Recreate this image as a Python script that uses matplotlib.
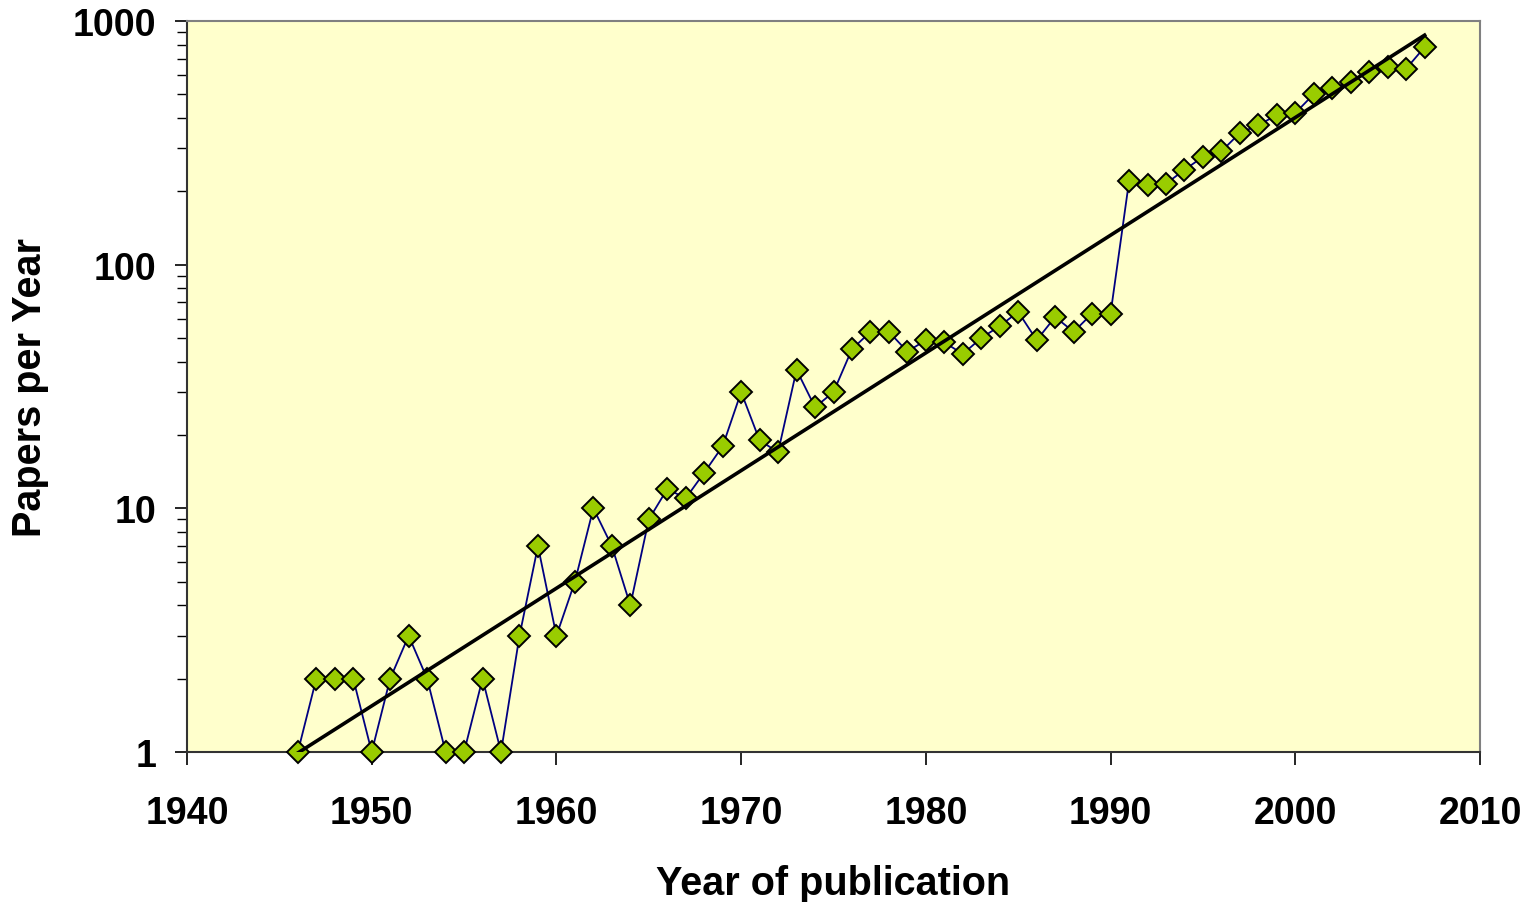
import numpy as np
import matplotlib
matplotlib.use("Agg")
import matplotlib.pyplot as plt
from matplotlib.ticker import LogLocator, FixedLocator, NullFormatter

plt.rcParams['font.family'] = ['Liberation Sans', 'DejaVu Sans']
plt.rcParams['font.weight'] = 'bold'

years = list(range(1946, 2008))
papers = [1, 2, 2, 2, 1, 2, 3, 2, 1, 1,
          2, 1, 3, 7, 3, 5, 10, 7, 4, 9,
          12, 11, 14, 18, 30, 19, 17, 37, 26, 30,
          45, 53, 53, 44, 49, 48, 43, 50, 56, 64,
          49, 61, 53, 63, 63, 220, 212, 215, 245, 277,
          292, 347, 374, 411, 419, 501, 531, 561, 617, 647,
          637, 781]

x_ticks = [1940, 1950, 1960, 1970, 1980, 1990, 2000, 2010]
y_ticks = [1, 10, 100, 1000]
y_tick_labels = ['1', '10', '100', '1000']

# exponential trend line (least squares on log values, like Excel)
yrs = np.array(years, dtype=float)
coef = np.polyfit(yrs, np.log10(papers), 1)
trend = 10 ** np.polyval(coef, yrs)

fig = plt.figure(figsize=(15.26, 9.03), dpi=100)
fig.patch.set_facecolor('white')
ax = fig.add_axes([187/1526, 1 - 753/903, (1480 - 187)/1526, (753 - 22)/903])
ax.set_facecolor('#FFFFCC')

ax.plot(years, papers, color='#000080', lw=1.3, marker='D', ms=11,
        mfc='#99CC00', mec='black', mew=1.4, zorder=3, clip_on=False)
ax.plot(yrs, trend, color='black', lw=2.6, zorder=4)

ax.set_yscale('log')
ax.set_xlim(1940, 2010)
ax.set_ylim(1, 1000)
ax.xaxis.set_major_locator(FixedLocator(x_ticks))
ax.yaxis.set_major_locator(FixedLocator(y_ticks))
ax.set_yticklabels(y_tick_labels)
ax.yaxis.set_minor_locator(LogLocator(base=10, subs=np.arange(2, 10)))
ax.yaxis.set_minor_formatter(NullFormatter())

ax.tick_params(axis='x', which='major', direction='out', length=9, width=1.2,
               pad=22, labelsize=27)
ax.tick_params(axis='y', which='major', direction='out', length=9, width=1.2,
               pad=13, labelsize=27)
ax.tick_params(axis='y', which='minor', direction='out', length=7, width=1.0)

for s in ['left', 'bottom']:
    ax.spines[s].set_color('#333333')
    ax.spines[s].set_linewidth(1.5)
for s in ['top', 'right']:
    ax.spines[s].set_color('#808080')
    ax.spines[s].set_linewidth(1.5)

ax.set_xlabel('Year of publication', fontsize=28.5, fontweight='bold', labelpad=24)
ax.set_ylabel('Papers per Year', fontsize=28.5, fontweight='bold', labelpad=17)

fig.savefig('out.png', dpi=100, facecolor=fig.get_facecolor())
